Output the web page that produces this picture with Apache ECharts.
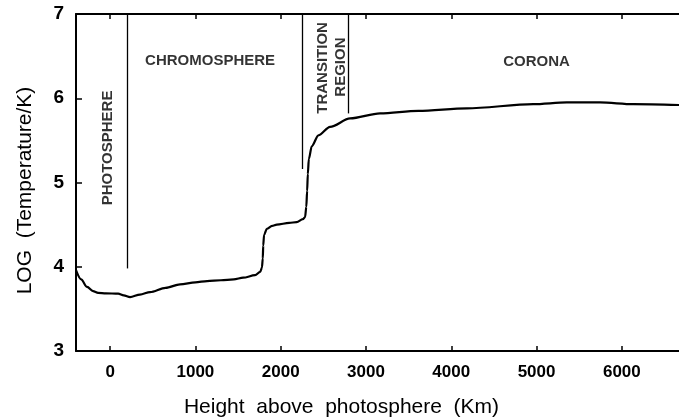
<!DOCTYPE html>
<html>
<head>
<meta charset="utf-8">
<script src="https://cdn.jsdelivr.net/npm/echarts@6/dist/echarts.min.js"></script>
<style>
html, body { margin: 0; padding: 0; background: #fff; }
#chart { width: 679px; height: 417px; }
</style>
</head>
<body>
<div id="chart"></div>
<script>
// height above photosphere (km) and log T
var heights = [-400, -340, -270, -200, -141, -50, 94, 160, 234, 350, 469, 650, 820, 1000, 1137, 1300, 1450, 1560, 1700, 1760, 1780, 1790, 1795, 1805, 1837, 1900, 1954, 2100, 2188, 2260, 2286, 2300, 2310, 2318, 2330, 2364, 2442, 2579, 2814, 3165, 3614, 4182, 4960, 5354, 5744, 6135, 6670];
var logTemp = [3.96, 3.85, 3.76, 3.71, 3.69, 3.685, 3.68, 3.66, 3.64, 3.67, 3.70, 3.75, 3.79, 3.815, 3.83, 3.84, 3.85, 3.87, 3.90, 3.94, 3.99, 4.10, 4.25, 4.38, 4.45, 4.485, 4.50, 4.52, 4.53, 4.565, 4.59, 4.71, 4.90, 5.10, 5.28, 5.43, 5.56, 5.66, 5.76, 5.82, 5.85, 5.88, 5.93, 5.95, 5.95, 5.93, 5.92];

// region boundaries: x, bottom end of the line (top is 7)
var boundX = [200, 2250, 2790];
var boundBottom = [3.98, 5.16, 5.82];

// region labels
var regionNames = ['PHOTOSPHERE', 'CHROMOSPHERE', 'TRANSITION', 'REGION', 'CORONA'];
var regionX = [-30, 1172, 2490, 2700, 5000];
var regionY = [5.41, 6.44, 6.36, 6.37, 6.43];
var regionRotate = [90, 0, 90, 90, 0];

var xTicks = [0, 1000, 2000, 3000, 4000, 5000, 6000];

var fontFamily = '"Liberation Sans", Arial, sans-serif';

var lineData = heights.map(function(h, i) { return [h, logTemp[i]]; });
var boundLines = boundX.map(function(x, i) {
	return [{ coord: [x, 7] }, { coord: [x, boundBottom[i]] }];
});
var labelData = regionNames.map(function(n, i) {
	return {
		name: n,
		value: [regionX[i], regionY[i]],
		label: { rotate: regionRotate[i] }
	};
});

var option = {
	animation: false,
	grid: { left: 76, right: 0, top: 14, bottom: 66, containLabel: false, outerBoundsMode: 'none' },
	xAxis: [{
		type: 'value',
		min: -400,
		max: 6670,
		position: 'bottom',
		name: 'Height  above  photosphere  (Km)',
		nameLocation: 'middle',
		nameGap: 46,
		nameTextStyle: { color: '#000', fontSize: 21, fontFamily: fontFamily, padding: [0, 72, 0, 0] },
		axisLine: { show: true, onZero: false, lineStyle: { color: '#000', width: 2 } },
		axisTick: { show: true, inside: true, length: 5, customValues: xTicks, lineStyle: { color: '#000', width: 1.5 } },
		axisLabel: {
			customValues: xTicks, color: '#000', fontSize: 17, fontWeight: 'bold', margin: 13, fontFamily: fontFamily,
			formatter: function(v) { return String(v); }
		},
		splitLine: { show: false }
	}, {
		type: 'value',
		min: -400,
		max: 6670,
		position: 'top',
		axisLine: { show: true, onZero: false, lineStyle: { color: '#000', width: 2 } },
		axisTick: { show: true, inside: true, length: 5, customValues: xTicks, lineStyle: { color: '#000', width: 1.5 } },
		axisLabel: { show: false },
		splitLine: { show: false }
	}],
	yAxis: {
		type: 'value',
		min: 3,
		max: 7,
		interval: 1,
		name: 'LOG  (Temperature/K)',
		nameLocation: 'middle',
		nameGap: 40,
		nameTextStyle: { color: '#000', fontSize: 21, fontFamily: fontFamily, padding: [0, 16, 0, 0] },
		axisLine: { show: true, onZero: false, lineStyle: { color: '#000', width: 2 } },
		axisTick: { show: true, inside: true, length: 6, lineStyle: { color: '#000', width: 1.5 } },
		axisLabel: { color: '#000', fontSize: 19, fontWeight: 'bold', margin: 12, fontFamily: fontFamily },
		splitLine: { show: false }
	},
	series: [{
		type: 'line',
		data: lineData,
		showSymbol: false,
		smooth: 0.3,
		smoothMonotone: 'x',
		lineStyle: { color: '#000', width: 2.2 },
		markLine: {
			silent: true,
			symbol: 'none',
			label: { show: false },
			lineStyle: { color: '#000', width: 1.3, type: 'solid' },
			data: boundLines
		}
	}, {
		type: 'scatter',
		data: labelData,
		symbolSize: 0,
		silent: true,
		label: {
			show: true,
			position: 'inside',
			formatter: '{b}',
			color: '#000',
			fontSize: 15,
			fontWeight: 'bold',
			fontFamily: fontFamily
		}
	}]
};

var myChart = echarts.init(document.getElementById('chart'));
myChart.setOption(option);
</script>
</body>
</html>
